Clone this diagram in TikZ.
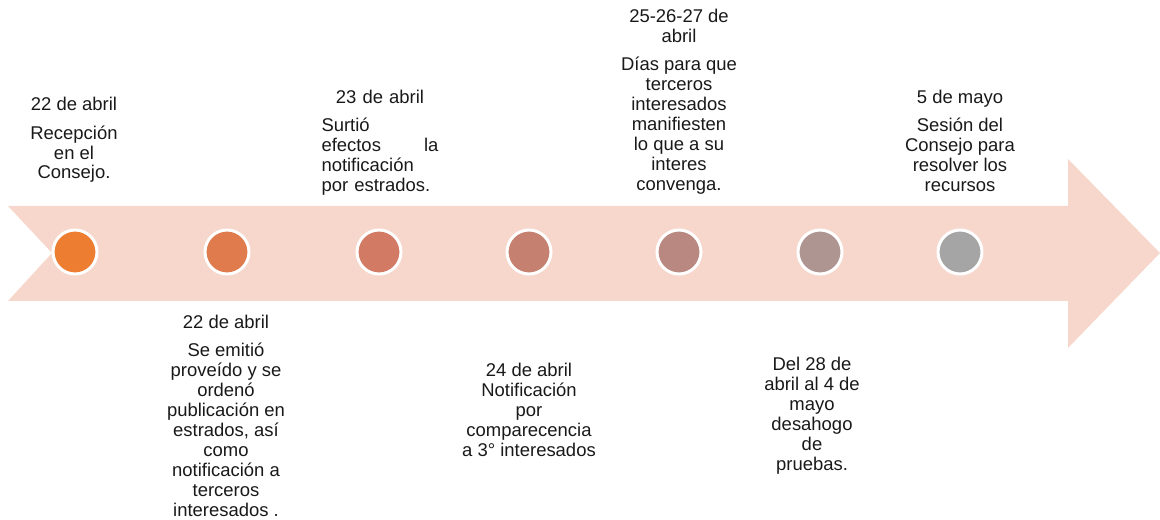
\documentclass[tikz,border=0pt]{standalone}
\usepackage{fontspec}
\setmainfont{Liberation Sans}
\usetikzlibrary{positioning}

\definecolor{arrowbg}{HTML}{F7D7CC}
\definecolor{dotA}{HTML}{ED7D31}
\definecolor{dotB}{HTML}{DF7B4D}
\definecolor{dotC}{HTML}{D37A64}
\definecolor{dotD}{HTML}{C5806F}
\definecolor{dotE}{HTML}{B98880}
\definecolor{dotF}{HTML}{AE9592}
\definecolor{dotG}{HTML}{A5A5A5}

\begin{document}
\begin{tikzpicture}[x=0.02cm,y=-0.02cm,
    dot/.style={circle,draw=white,line width=1.7pt,minimum size=0.88cm,inner sep=0pt},
    event/.style={align=center,inner sep=0pt,anchor=north,text=black!90,
      font=\fontsize{10.5}{11.34}\selectfont}]

\useasboundingbox (0,0) rectangle (1160,520);

% the big arrow
\fill[arrowbg] (8,206) -- (1068,206) -- (1068,159) -- (1160,253) -- (1068,348)
  -- (1068,301) -- (8,301) -- (52,253) -- cycle;

\node[dot, fill=dotA] (c1) at (75,252) {};
\node[dot, fill=dotB] (c2) at (227,252) {};
\node[dot, fill=dotC] (c3) at (379,252) {};
\node[dot, fill=dotD] (c4) at (529,252) {};
\node[dot, fill=dotE] (c5) at (679,252) {};
\node[dot, fill=dotF] (c6) at (820,252) {};
\node[dot, fill=dotG] (c7) at (960,252) {};

\node[event] (t1) at (74,97) {22 de abril\\[0.17cm]Recepción\\en el\\Consejo.};
\node[event] (t2) at (226,315) {22 de abril\\[0.16cm]Se emitió\\proveído y se\\ordenó\\publicación en\\estrados, así\\como\\notificación a\\terceros\\interesados .};
\node[event, align=left, text width=117*0.02cm] (t3) at (380,90)
  {\makebox[\linewidth]{23 de abril}\\[0.16cm]Surtió\\efectos\hfill la\\notificación\\por estrados.};
\node[event] (t4) at (529,363) {24 de abril\\Notificación\\por\\comparecencia\\a 3° interesados};
\node[event] (t5) at (679,9) {25-26-27 de\\abril\\[0.16cm]Días para que\\terceros\\interesados\\manifiesten\\lo que a su\\interes\\convenga.};
\node[event] (t6) at (812,357) {Del 28 de\\abril al 4 de\\mayo\\desahogo\\de\\pruebas.};
\node[event] (t7) at (960,90) {5 de mayo\\[0.16cm]Sesión del\\Consejo para\\resolver los\\recursos};

\end{tikzpicture}
\end{document}
